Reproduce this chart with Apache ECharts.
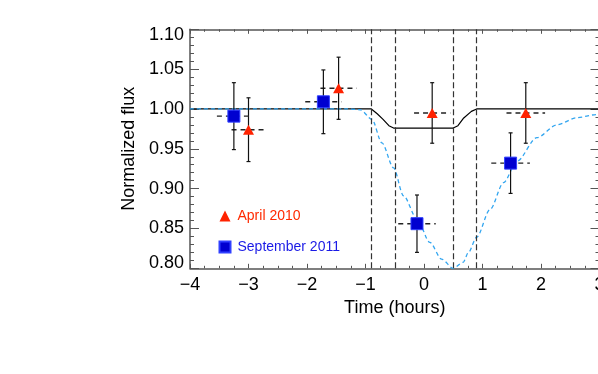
<!DOCTYPE html>
<html>
<head>
<meta charset="utf-8">
<script src="https://cdn.jsdelivr.net/npm/echarts@6/dist/echarts.min.js"></script>
<style>
  html, body { margin: 0; padding: 0; background: #fff; }
  #main { width: 598px; height: 374px; }
</style>
</head>
<body>
<div id="main"></div>
<script>
  // April 2010 points (red triangles)
  var aprTime = [-3.00, -1.46, 0.14, 1.74];
  var aprFlux = [0.974, 1.026, 0.995, 0.995];
  var aprTimeErr = [0.29, 0.31, 0.31, 0.33];
  var aprFluxErr = [0.040, 0.039, 0.038, 0.038];

  // September 2011 points (blue squares)
  var sepTime = [-3.25, -1.72, -0.12, 1.48];
  var sepFlux = [0.991, 1.009, 0.856, 0.932];
  var sepTimeErr = [0.29, 0.31, 0.32, 0.33];
  var sepFluxErr = [0.042, 0.040, 0.036, 0.038];

  // transit model (black solid)
  var modelTime = [-4, -0.9, -0.8, -0.7, -0.6, -0.52, 0.5, 0.58, 0.67, 0.81, 0.9, 3];
  var modelFlux = [1, 1, 0.994, 0.987, 0.979, 0.976, 0.976, 0.979, 0.988, 0.997, 1, 1];

  // wide model (blue dashed)
  var wideTime = [-4, -1.3, -1.09, -0.89, -0.72, -0.52, -0.35, -0.12, 0.10, 0.30, 0.50, 0.67, 0.76, 0.90, 1.13, 1.36, 1.59, 1.93, 2.27, 2.61, 2.95, 3];
  var wideFlux = [1, 1, 0.999, 0.987, 0.9575, 0.926, 0.891, 0.862, 0.8325, 0.8116, 0.800, 0.8075, 0.82, 0.839, 0.874, 0.9075, 0.9345, 0.964, 0.980, 0.989, 0.993, 0.993];

  // contact times (vertical dashed lines)
  var contactTimes = [-0.9, -0.5, 0.5, 0.9];

  var xTicks = { min: -4, max: 3, interval: 1 };
  var yTicks = { min: 0.80, max: 1.10, interval: 0.05 };

  var font = "'Liberation Sans', Arial, Helvetica, sans-serif";
  var axisColor = "#555";

  function pairs(xs, ys) {
    return xs.map(function (x, i) { return [x, ys[i]]; });
  }
  function errRows(t, f, te, fe) {
    return t.map(function (x, i) { return [x, f[i], te[i], fe[i]]; });
  }

  function renderErr(params, api) {
    var t = api.value(0), f = api.value(1), te = api.value(2), fe = api.value(3);
    var l = api.coord([t - te, f]), r = api.coord([t + te, f]);
    var top = api.coord([t, f + fe]), bot = api.coord([t, f - fe]);
    var vstyle = { stroke: "#111", lineWidth: 1.2 };
    return {
      type: "group",
      children: [
        { type: "line", shape: { x1: l[0], y1: l[1], x2: r[0], y2: r[1] },
          style: { stroke: "#222", lineWidth: 1.4, lineDash: [5, 4] } },
        { type: "line", shape: { x1: top[0], y1: top[1], x2: bot[0], y2: bot[1] }, style: vstyle },
        { type: "line", shape: { x1: top[0] - 2, y1: top[1], x2: top[0] + 2, y2: top[1] }, style: vstyle },
        { type: "line", shape: { x1: bot[0] - 2, y1: bot[1], x2: bot[0] + 2, y2: bot[1] }, style: vstyle }
      ]
    };
  }

  function minusFmt(v) {
    return v < 0 ? "\u2212" + Math.abs(v) : String(v);
  }
  function yFmt(v) {
    var s = v.toFixed(2);
    if (Math.abs(v - yTicks.min) < 1e-6) return "{lo|" + s + "}";
    if (Math.abs(v - yTicks.max) < 1e-6) return "{hi|" + s + "}";
    return s;
  }

  var labelStyle = { color: "#000", fontSize: 18, fontFamily: font };

  var chart = echarts.init(document.getElementById("main"), null, { renderer: "canvas" });
  var option = {
    animation: false,
    backgroundColor: "#fff",
    grid: { left: 190, top: 29.3, width: 409.5, height: 239, outerBoundsMode: "none" },
    legend: {
      orient: "vertical",
      left: 213.5,
      top: 204,
      itemWidth: 11,
      itemHeight: 11,
      itemGap: 17,
      textStyle: { fontSize: 14, fontFamily: font, padding: [0, 0, 0, 2] },
      data: [
        { name: "April 2010", icon: "triangle", textStyle: { color: "#ff2a00" } },
        { name: "September 2011", icon: "rect", textStyle: { color: "#1a1ae6" } }
      ],
      selectedMode: false
    },
    xAxis: [
      {
        type: "value", position: "bottom",
        min: xTicks.min, max: xTicks.max, interval: xTicks.interval,
        name: "Time (hours)", nameLocation: "middle", nameGap: 29,
        nameTextStyle: { color: "#000", fontSize: 18, fontFamily: font },
        axisLine: { show: true, onZero: false, lineStyle: { color: axisColor, width: 1.5 } },
        axisTick: { inside: true, length: 4.5, lineStyle: { color: axisColor, width: 1 } },
        minorTick: { show: true, splitNumber: 4, length: 2.5, lineStyle: { color: axisColor, width: 1 } },
        axisLabel: Object.assign({ margin: 8, formatter: minusFmt }, labelStyle),
        splitLine: { show: false }
      },
      {
        type: "value", position: "top",
        min: xTicks.min, max: xTicks.max, interval: xTicks.interval,
        axisLine: { show: true, onZero: false, lineStyle: { color: axisColor, width: 1.5 } },
        axisTick: { inside: true, length: 4.5, lineStyle: { color: axisColor, width: 1 } },
        minorTick: { show: true, splitNumber: 4, length: 2.5, lineStyle: { color: axisColor, width: 1 } },
        axisLabel: { show: false },
        splitLine: { show: false }
      }
    ],
    yAxis: [
      {
        type: "value", position: "left",
        min: yTicks.min, max: yTicks.max, interval: yTicks.interval,
        name: "Normalized flux", nameLocation: "middle", nameGap: 52,
        nameTextStyle: { color: "#000", fontSize: 18, fontFamily: font },
        axisLine: { show: true, onZero: false, lineStyle: { color: axisColor, width: 1.5 } },
        axisTick: { inside: true, length: 9, lineStyle: { color: axisColor, width: 1 } },
        minorTick: { show: true, splitNumber: 5, length: 4, lineStyle: { color: axisColor, width: 1 } },
        axisLabel: Object.assign({
          margin: 6, formatter: yFmt,
          rich: {
            lo: { fontSize: 18, fontFamily: font, color: "#000", padding: [0, 0, 11, 0] },
            hi: { fontSize: 18, fontFamily: font, color: "#000", padding: [11, 0, 0, 0] }
          }
        }, labelStyle),
        splitLine: { show: false }
      },
      {
        type: "value", position: "right",
        min: yTicks.min, max: yTicks.max, interval: yTicks.interval,
        axisLine: { show: true, onZero: false, lineStyle: { color: axisColor, width: 1.5 } },
        axisTick: { inside: true, length: 9, lineStyle: { color: axisColor, width: 1 } },
        minorTick: { show: true, splitNumber: 5, length: 4, lineStyle: { color: axisColor, width: 1 } },
        axisLabel: { show: false },
        splitLine: { show: false }
      }
    ],
    series: [
      {
        name: "contacts",
        type: "line",
        data: [],
        silent: true,
        markLine: {
          symbol: "none",
          silent: true,
          label: { show: false },
          lineStyle: { color: "#333", width: 1.2, type: [6, 3] },
          data: contactTimes.map(function (t) { return { xAxis: t }; })
        },
        z: 1
      },
      {
        name: "model",
        type: "line",
        data: pairs(modelTime, modelFlux),
        showSymbol: false,
        lineStyle: { color: "#000", width: 1.2 },
        z: 2
      },
      {
        name: "wide",
        type: "line",
        data: pairs(wideTime, wideFlux),
        showSymbol: false,
        smooth: 0.3,
        smoothMonotone: "x",
        clip: true,
        lineStyle: { color: "#33a6f0", width: 1.3, type: [4, 3] },
        z: 3
      },
      {
        name: "aprErr",
        type: "custom",
        renderItem: renderErr,
        encode: { x: 0, y: 1 },
        data: errRows(aprTime, aprFlux, aprTimeErr, aprFluxErr),
        z: 4
      },
      {
        name: "sepErr",
        type: "custom",
        renderItem: renderErr,
        encode: { x: 0, y: 1 },
        data: errRows(sepTime, sepFlux, sepTimeErr, sepFluxErr),
        z: 4
      },
      {
        name: "April 2010",
        type: "scatter",
        symbol: "triangle",
        symbolSize: [11, 10],
        data: pairs(aprTime, aprFlux),
        itemStyle: { color: "#ff2200", opacity: 1 },
        z: 5
      },
      {
        name: "September 2011",
        type: "scatter",
        symbol: "rect",
        symbolSize: 12,
        data: pairs(sepTime, sepFlux),
        itemStyle: { color: "#0000d0", borderColor: "#3040ff", borderWidth: 1, opacity: 1 },
        z: 5
      }
    ]
  };
  chart.setOption(option);
</script>
</body>
</html>
